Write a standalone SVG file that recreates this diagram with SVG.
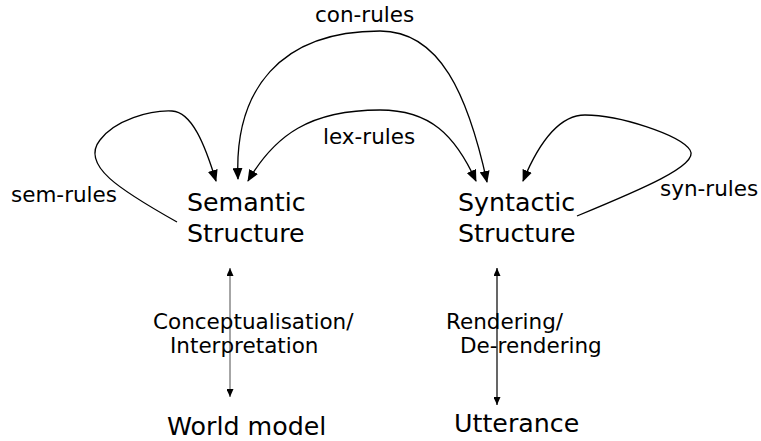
<svg xmlns="http://www.w3.org/2000/svg" width="761" height="441" viewBox="0 0 761 441">
<style>
.node{font-family:"DejaVu Sans",Verdana,sans-serif;font-size:25.3px;fill:#000}
.lbl{font-family:"DejaVu Sans",Verdana,sans-serif;font-size:21.5px;fill:#000}
.c{fill:none;stroke:#000;stroke-width:1.3}
</style>
<defs>
<marker id="ah" markerUnits="userSpaceOnUse" markerWidth="12" markerHeight="10" refX="11" refY="5" orient="auto-start-reverse" viewBox="0 0 12 10">
<path d="M0,0 L12,5 L0,10 Z" fill="#000"/>
</marker>
<marker id="sh" markerUnits="userSpaceOnUse" markerWidth="8" markerHeight="7" refX="8" refY="3.5" orient="auto-start-reverse" viewBox="0 0 8 7">
<path d="M0,0 L8,3.5 L0,7 Z" fill="#000"/>
</marker>
</defs>
<g id="connectors">
<path id="con" class="c" d="M 238 179 C 234 90, 280 31, 380 31 C 440 31, 468 95, 487 182" marker-start="url(#ah)" marker-end="url(#ah)"/>
<path id="lex" class="c" d="M 248 181 C 275 135, 310 110, 380 110 C 430 110, 455 135, 476 181" marker-start="url(#ah)" marker-end="url(#ah)"/>
<path id="sem" class="c" d="M 177 222 C 120 190, 80 165, 100 140 C 115 120, 150 110, 172 111 C 192 112, 205 145, 216 181" marker-end="url(#ah)"/>
<path id="syn" class="c" d="M 577 216 C 640 190, 700 165, 690 150 C 680 135, 620 115, 585 115 C 560 115, 540 140, 523 181" marker-end="url(#ah)"/>
<line id="concept" x1="230" y1="268" x2="230" y2="397" stroke="#888" stroke-width="1.5" marker-start="url(#sh)" marker-end="url(#sh)"/>
<line id="render" x1="497" y1="268" x2="497" y2="405" stroke="#000" stroke-width="1.2" marker-start="url(#sh)" marker-end="url(#sh)"/>
</g>
<g class="lbl">
<text x="315" y="22">con-rules</text>
<text x="323" y="144">lex-rules</text>
<text x="11" y="202">sem-rules</text>
<text x="660" y="196">syn-rules</text>
<text x="153" y="329">Conceptualisation/</text>
<text x="170" y="353">Interpretation</text>
<text x="446" y="329">Rendering/</text>
<text x="460" y="353">De-rendering</text>
</g>
<g id="semantic"><text class="node" x="187" y="211">Semantic</text><text class="node" x="187" y="242">Structure</text></g>
<g id="syntactic"><text class="node" x="458" y="211">Syntactic</text><text class="node" x="458" y="242">Structure</text></g>
<g id="world"><text class="node" x="167" y="435">World model</text></g>
<g id="utterance"><text class="node" x="454" y="432">Utterance</text></g>
</svg>
